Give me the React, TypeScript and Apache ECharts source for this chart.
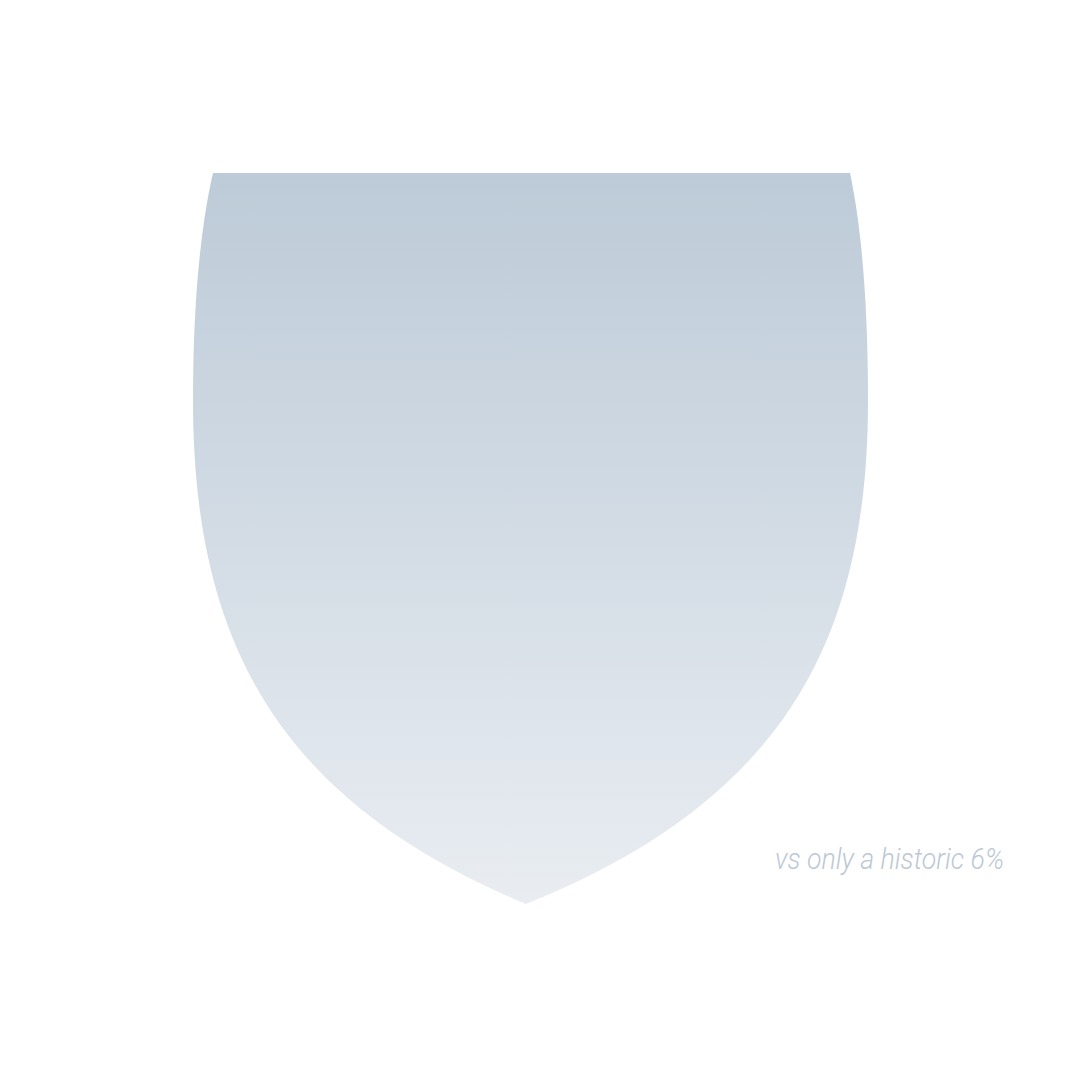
import React, { useEffect, useRef } from "react";
import * as echarts from "echarts";

// Data
const historicShare = [6];
const captionPrefix = ["vs only a historic"];
const gradientStops = ["#bdcbd8", "#e9edf2"];

const SHIELD_D =
  "M213,173 L850,173 C861,225 868,300 868,400 C868,640 784,800 526,904 C276,800 193,640 193,400 C193,300 201,225 213,173 Z";

echarts.graphic.registerShape("shield", echarts.graphic.extendPath(SHIELD_D as any, {}) as any);

export default function App() {
  const ref = useRef<HTMLDivElement>(null);
  useEffect(() => {
    document.body.style.margin = "0";
    const chart = echarts.init(ref.current!, undefined, { renderer: "svg" });
    chart.setOption({
      animation: false,
      backgroundColor: "#ffffff",
      graphic: [
        {
          type: "shield",
          x: 0,
          y: 0,
          style: {
            fill: new echarts.graphic.LinearGradient(0, 0, 0, 1, [
              { offset: 0, color: gradientStops[0] },
              { offset: 1, color: gradientStops[1] },
            ]),
          },
        },
        {
          type: "text",
          x: 775,
          y: 874,
          scaleX: 0.89,
          style: {
            text: `${captionPrefix[0]} ${historicShare[0]}%`,
            fontFamily: "Roboto",
            fontWeight: 300,
            fontStyle: "italic",
            fontSize: 30,
            fill: "#bcc8d5",
            verticalAlign: "bottom",
            align: "left",
          },
        },
      ],
    });
    return () => chart.dispose();
  }, []);
  return <div ref={ref} style={{ width: 1080, height: 1080 }} />;
}
